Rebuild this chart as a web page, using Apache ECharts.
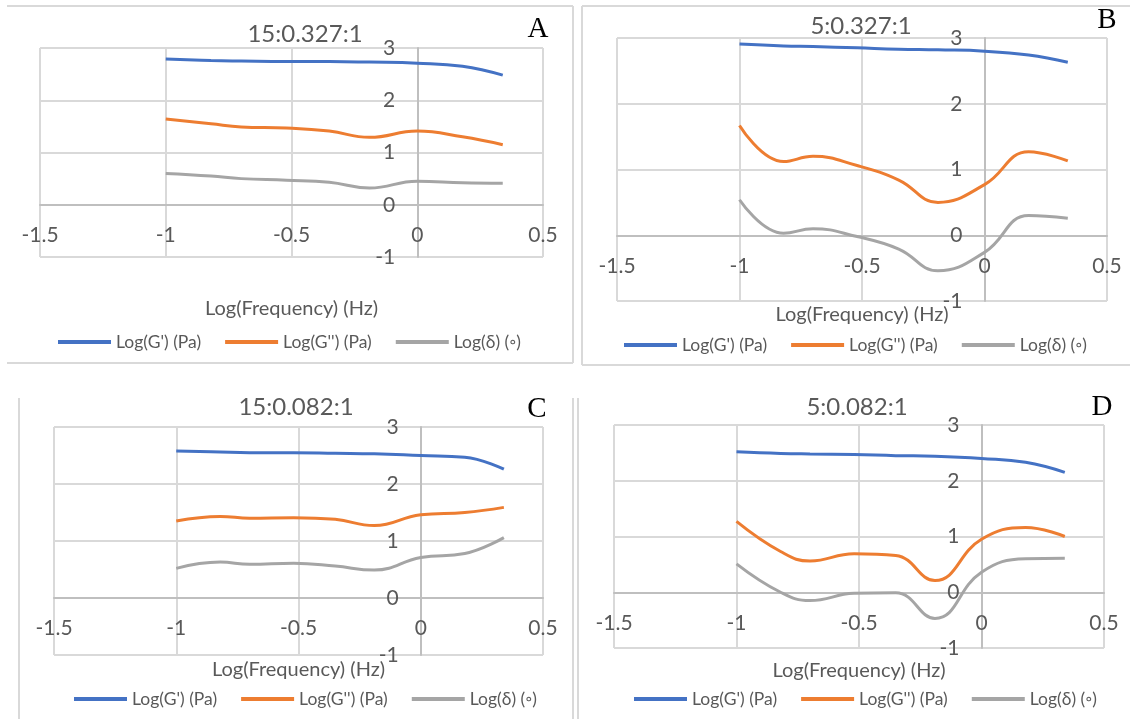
<!DOCTYPE html>
<html>
<head>
<meta charset="utf-8">
<script src="https://cdn.jsdelivr.net/npm/echarts@6/dist/echarts.min.js"></script>
<style>
  html, body { margin: 0; padding: 0; background: #fff; }
  #chart { width: 1130px; height: 719px; }
</style>
</head>
<body>
<div id="chart"></div>
<script>
// log10 of the test frequencies (Hz)
const freqLog = [-1, -0.82, -0.7, -0.52, -0.35, -0.19, 0, 0.18, 0.34]

const seriesNames = ["Log(G') (Pa)", "Log(G'') (Pa)", "Log(δ) (◦)"]
const panelTitles = ['15:0.327:1', '5:0.327:1', '15:0.082:1', '5:0.082:1']
const panelLetters = ['A', 'B', 'C', 'D']
const xTicks = [-1.5, 0.5, 0.5]   // min, max, step
const yTicks = [-1, 3, 1]

// A: 15:0.327:1
const storageA = [2.79, 2.76, 2.75, 2.74, 2.74, 2.73, 2.71, 2.65, 2.48]
const lossA    = [1.64, 1.55, 1.49, 1.47, 1.41, 1.29, 1.41, 1.30, 1.15]
const deltaA   = [0.60, 0.55, 0.50, 0.47, 0.43, 0.32, 0.45, 0.42, 0.41]
// B: 5:0.327:1
const storageB = [2.91, 2.88, 2.87, 2.85, 2.83, 2.82, 2.80, 2.74, 2.63]
const lossB    = [1.67, 1.12, 1.20, 1.06, 0.84, 0.50, 0.77, 1.27, 1.13]
const deltaB   = [0.54, 0.03, 0.10, -0.02, -0.21, -0.54, -0.26, 0.30, 0.26]
// C: 15:0.082:1
const storageC = [2.58, 2.56, 2.55, 2.55, 2.54, 2.53, 2.50, 2.47, 2.26]
const lossC    = [1.35, 1.43, 1.40, 1.41, 1.38, 1.27, 1.46, 1.50, 1.59]
const deltaC   = [0.52, 0.63, 0.59, 0.61, 0.56, 0.49, 0.71, 0.78, 1.06]
// D: 5:0.082:1
const storageD = [2.52, 2.49, 2.48, 2.47, 2.45, 2.44, 2.40, 2.33, 2.15]
const lossD    = [1.27, 0.73, 0.56, 0.69, 0.66, 0.21, 0.95, 1.16, 1.00]
const deltaD   = [0.51, 0.00, -0.15, -0.02, -0.01, -0.47, 0.36, 0.60, 0.61]

const panelData = [
  [storageA, lossA, deltaA],
  [storageB, lossB, deltaB],
  [storageC, lossC, deltaC],
  [storageD, lossD, deltaD],
]

// layout of each panel, in px
const layout = [
  {grid: [40, 48, 503, 209], title: [305, 22], letter: [538, 15], legend: [58, 333], nameGap: 94},
  {grid: [617, 38, 490, 263], title: [861, 14], letter: [1107, 6], legend: [624, 336], nameGap: 69},
  {grid: [54, 427, 489, 228], title: [296, 395], letter: [537, 395], legend: [74, 690], nameGap: 62},
  {grid: [614, 425, 490, 223], title: [857, 395], letter: [1102, 393], legend: [634, 690], nameGap: 68},
]

const colors = ['#4472C4', '#ED7D31', '#A5A5A5']
const textColor = '#595959'
const font = 'Lato'

const chart = echarts.init(document.getElementById('chart'))

const grid = [], xAxis = [], yAxis = [], series = [], title = [], legend = []

// where the zero lines sit inside the plot, as a share of its size
const xZeroShare = (0 - xTicks[0]) / (xTicks[1] - xTicks[0])
const yZeroShare = (0 - yTicks[0]) / (yTicks[1] - yTicks[0])

layout.forEach((p, i) => {
  grid.push({left: p.grid[0], top: p.grid[1], width: p.grid[2], height: p.grid[3]})
  xAxis.push({
    type: 'value', gridIndex: i, position: 'bottom',
    offset: -p.grid[3] * yZeroShare,
    min: xTicks[0], max: xTicks[1], interval: xTicks[2],
    name: 'Log(Frequency) (Hz)', nameLocation: 'middle', nameGap: p.nameGap,
    nameTextStyle: {color: textColor, fontSize: 20, fontFamily: font},
    axisLine: {onZero: false, lineStyle: {color: '#bfbfbf', width: 2}},
    axisTick: {show: false},
    axisLabel: {color: textColor, fontSize: 21, fontFamily: font, margin: 20},
    splitLine: {lineStyle: {color: '#d9d9d9', width: 2}},
  })
  yAxis.push({
    type: 'value', gridIndex: i, position: 'left',
    offset: -p.grid[2] * xZeroShare,
    min: yTicks[0], max: yTicks[1], interval: yTicks[2],
    axisLine: {show: true, onZero: false, lineStyle: {color: '#bfbfbf', width: 2}},
    axisTick: {show: false},
    axisLabel: {color: textColor, fontSize: 21, fontFamily: font, margin: 22},
    splitLine: {lineStyle: {color: '#d9d9d9', width: 2}},
  })
  panelData[i].forEach((vals, k) => {
    series.push({
      name: seriesNames[k], type: 'line', xAxisIndex: i, yAxisIndex: i,
      data: freqLog.map((x, j) => [x, vals[j]]),
      smooth: 0.45, showSymbol: false, symbol: 'none',
      lineStyle: {color: colors[k], width: 3},
      itemStyle: {color: colors[k]},
    })
  })
  title.push({
    text: panelTitles[i], left: p.title[0], top: p.title[1], textAlign: 'center', padding: 0,
    textStyle: {color: textColor, fontSize: 24, fontWeight: 'normal', fontFamily: font},
  })
  title.push({
    text: panelLetters[i], left: p.letter[0], top: p.letter[1], textAlign: 'center', padding: 0,
    textStyle: {color: '#000', fontSize: 29, fontWeight: 'normal', fontFamily: 'Liberation Serif'},
  })
  legend.push({
    left: p.legend[0], top: p.legend[1], padding: 0,
    data: seriesNames, icon: 'rect', itemWidth: 53, itemHeight: 4, itemGap: 24,
    textStyle: {color: textColor, fontSize: 17.5, fontFamily: font, padding: [0, 0, 0, 0]},
  })
})

// panel frames
const frame = {stroke: '#d9d9d9', lineWidth: 2}
const lines = [
  [7, 6, 573, 6], [573, 6, 573, 363], [7, 363, 573, 363],
  [582, 6, 1130, 6], [582, 6, 582, 365], [582, 365, 1130, 365],
  [19, 398, 19, 719], [573, 398, 573, 719], [578, 398, 578, 719],
]

chart.setOption({
  animation: false,
  title, legend, grid, xAxis, yAxis, series,
  graphic: lines.map(l => ({type: 'line', shape: {x1: l[0], y1: l[1], x2: l[2], y2: l[3]}, style: frame, silent: true})),
})
</script>
</body>
</html>
